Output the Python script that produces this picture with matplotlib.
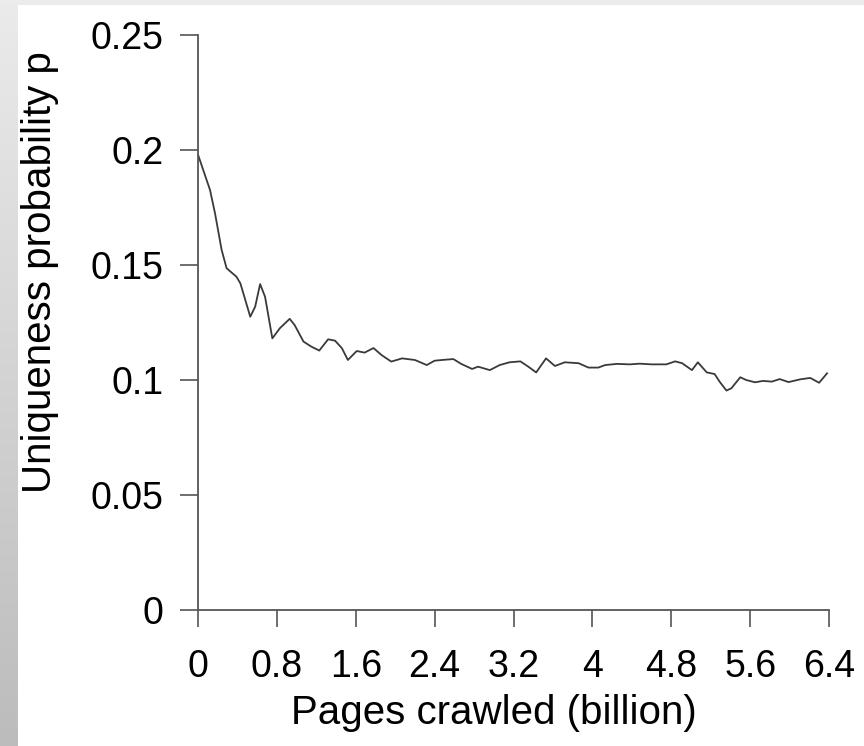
import numpy as np
import matplotlib
matplotlib.use("Agg")
import matplotlib.pyplot as plt
from matplotlib.patches import Rectangle
from matplotlib.colors import LinearSegmentedColormap

# ---- data ----
pages_billion = [0.0, 0.122, 0.172, 0.24, 0.29, 0.39, 0.43, 0.53, 0.58, 0.63, 0.68, 0.754, 0.83,
                 0.93, 0.98, 1.07, 1.15, 1.23, 1.32, 1.39, 1.46, 1.52, 1.61, 1.69, 1.78, 1.86,
                 1.96, 2.07, 2.2, 2.32, 2.40, 2.50, 2.59, 2.67, 2.78, 2.84, 2.96, 3.06, 3.16,
                 3.27, 3.35, 3.43, 3.53, 3.62, 3.72, 3.86, 3.96, 4.06, 4.13, 4.25, 4.38, 4.48,
                 4.60, 4.75, 4.84, 4.91, 5.01, 5.07, 5.16, 5.24, 5.29, 5.36, 5.41, 5.50, 5.56,
                 5.65, 5.73, 5.82, 5.90, 5.99, 6.11, 6.21, 6.30, 6.38]
uniqueness_p = [0.198, 0.1826, 0.1726, 0.1565, 0.1486, 0.1449, 0.142, 0.1275, 0.1319, 0.1417,
                0.1362, 0.1181, 0.1225, 0.1266, 0.1239, 0.1167, 0.1145, 0.1128, 0.1177, 0.1171,
                0.1138, 0.1087, 0.1126, 0.1119, 0.1139, 0.1109, 0.108, 0.1094, 0.1087, 0.1065,
                0.1084, 0.1088, 0.1091, 0.107, 0.1048, 0.1058, 0.1043, 0.1065, 0.1077, 0.1081,
                0.1058, 0.1033, 0.1094, 0.1061, 0.1077, 0.1073, 0.1054, 0.1054, 0.1065, 0.107,
                0.1068, 0.1071, 0.1068, 0.1068, 0.1081, 0.1073, 0.1043, 0.1077, 0.1033, 0.1026,
                0.0993, 0.0954, 0.0964, 0.1012, 0.1, 0.099, 0.0996, 0.0993, 0.1004, 0.0991,
                0.1003, 0.1009, 0.0988, 0.1029]
x_ticks = [0, 0.8, 1.6, 2.4, 3.2, 4, 4.8, 5.6, 6.4]
x_tick_labels = ["0", "0.8", "1.6", "2.4", "3.2", "4", "4.8", "5.6", "6.4"]
y_ticks = [0, 0.05, 0.1, 0.15, 0.2, 0.25]
y_tick_labels = ["0", "0.05", "0.1", "0.15", "0.2", "0.25"]
x_label = "Pages crawled (billion)"
y_label = "Uniqueness probability p"

plt.rcParams['font.family'] = ['Liberation Sans', 'DejaVu Sans']

W, H = 864, 746
fig = plt.figure(figsize=(W / 100, H / 100), dpi=100)
fig.patch.set_facecolor('white')

# slide background: left gradient strip and light top band
gax = fig.add_axes([0, 0, 17.5 / W, 1], zorder=-5)
grad = np.linspace(0, 1, 256).reshape(-1, 1)
cmap = LinearSegmentedColormap.from_list('g', ['#bcbcbc', '#ebebeb'])
gax.imshow(grad, aspect='auto', cmap=cmap, origin='lower', extent=[0, 1, 0, 1])
gax.set_axis_off()
fig.patches.append(Rectangle((0, 1 - 4.5 / H), 1, 4.5 / H, transform=fig.transFigure,
                             facecolor='#ebebeb', edgecolor='none', zorder=-4))

left, right, top, bottom = 198, 829, 35, 610
ax = fig.add_axes([left / W, 1 - bottom / H, (right - left) / W, (bottom - top) / H])
ax.plot(pages_billion, uniqueness_p, color='#3a3a3a', lw=1.3, solid_joinstyle='round')
ax.set_xlim(0, 6.4)
ax.set_ylim(0, 0.25)
ax.set_xticks(x_ticks)
ax.set_xticklabels(x_tick_labels)
ax.set_yticks(y_ticks)
ax.set_yticklabels(y_tick_labels)
for s in ['top', 'right']:
    ax.spines[s].set_visible(False)
for s in ['left', 'bottom']:
    ax.spines[s].set_color('#555555')
    ax.spines[s].set_linewidth(1.3)
ax.tick_params(axis='x', direction='out', length=12, width=1.2, color='#555555',
               labelsize=27, pad=16)
ax.tick_params(axis='y', direction='out', length=13, width=1.2, color='#555555',
               labelsize=27, pad=12)
ax.patch.set_alpha(0)

fig.text(494 / W, 1 - 713 / H, x_label, ha='center', va='center', fontsize=29)
fig.text(40 / W, 1 - 272 / H, y_label, ha='center', va='center', rotation=90, fontsize=29)

fig.savefig('out.png', dpi=100, facecolor=fig.get_facecolor())
